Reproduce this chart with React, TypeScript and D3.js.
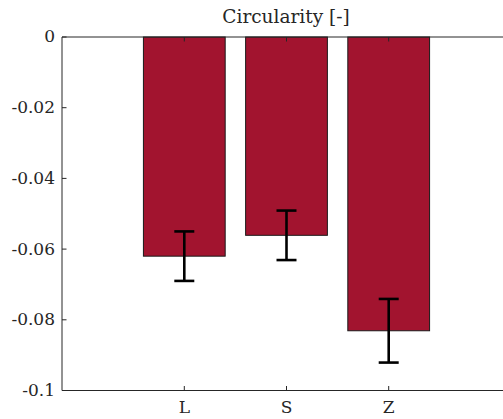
import React from 'react'
import * as d3 from 'd3'

const categories = ['L', 'S', 'Z']
const values = [-0.062, -0.0561, -0.0831]
const errors = [0.007, 0.007, 0.009]
const yTicks = [0, -0.02, -0.04, -0.06, -0.08, -0.1]
const yTickLabels = ['0', '-0.02', '-0.04', '-0.06', '-0.08', '-0.1']

const W = 503
const H = 419
const left = 62
const top = 37
const bottom = 390.5
const right = 520

export default function App() {
    // positions 1..3 for categories, same as matlab bar()
    const x = d3.scaleLinear().domain([1, 2]).range([184.3, 286.5])
    const y = d3.scaleLinear().domain([0, -0.1]).range([top, bottom])
    const barW = x(1.8) - x(1)
    const font = "DejaVu Serif"
    const axisColor = '#262626'

    return (
        <svg width={W} height={H} style={{ position: 'absolute', left: 0, top: 0, background: '#fff' }}>
            {categories.map((c, i) => {
                const v = values[i]
                return (
                    <rect key={c} x={x(i + 1) - barW / 2} y={y(0)} width={barW} height={y(v) - y(0)}
                        fill="#A2142F" stroke="#1a1a1a" strokeWidth={1} />
                )
            })}
            {categories.map((c, i) => {
                const cx = x(i + 1)
                const lo = y(values[i] + errors[i])
                const hi = y(values[i] - errors[i])
                return (
                    <g key={c} stroke="#000" strokeWidth={2.6} fill="none">
                        <line x1={cx} x2={cx} y1={lo} y2={hi} />
                        <line x1={cx - 10} x2={cx + 10} y1={lo} y2={lo} />
                        <line x1={cx - 10} x2={cx + 10} y1={hi} y2={hi} />
                    </g>
                )
            })}
            {/* box */}
            <g stroke={axisColor} strokeWidth={1} fill="none">
                <line x1={left} x2={right} y1={top} y2={top} />
                <line x1={left} x2={right} y1={bottom} y2={bottom} />
                <line x1={left} x2={left} y1={top} y2={bottom} />
                {yTicks.map(t => (
                    <line key={t} x1={left} x2={left + 4.5} y1={y(t)} y2={y(t)} />
                ))}
                {categories.map((c, i) => (
                    <g key={c}>
                        <line x1={x(i + 1)} x2={x(i + 1)} y1={bottom} y2={bottom - 4.5} />
                        <line x1={x(i + 1)} x2={x(i + 1)} y1={top} y2={top + 4.5} />
                    </g>
                ))}
            </g>
            <g style={{ fontFamily: font }} fontSize={17} fill="#262626">
                {yTicks.map((t, i) => (
                    <text key={t} x={left - 7} y={y(t)} dy="0.32em" textAnchor="end">{yTickLabels[i]}</text>
                ))}
                {categories.map((c, i) => (
                    <text key={c} x={x(i + 1)} y={bottom + 22} textAnchor="middle">{c}</text>
                ))}
                <text x={286} y={23} textAnchor="middle" fontSize={18.5}>Circularity [-]</text>
            </g>
        </svg>
    )
}
